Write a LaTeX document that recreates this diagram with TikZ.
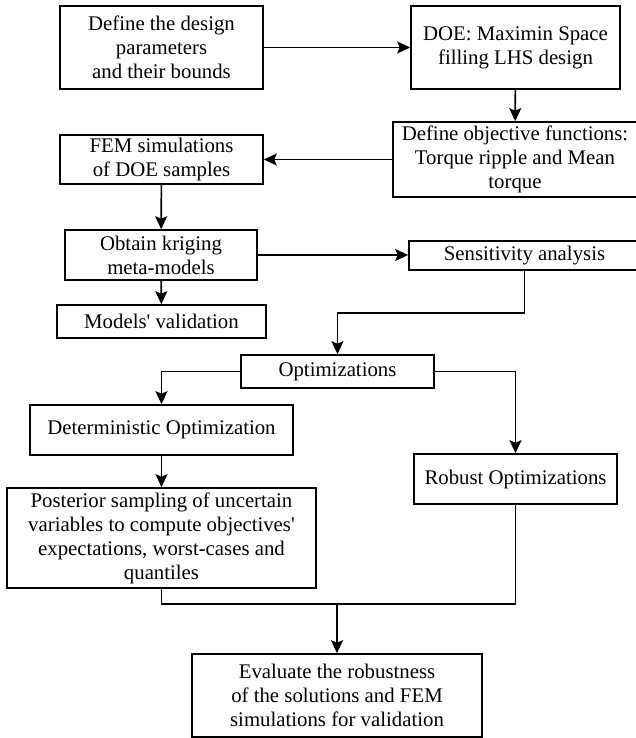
\documentclass[tikz,border=0pt]{standalone}
\usepackage{fontspec}
\setmainfont{Liberation Serif}
\usetikzlibrary{arrows.meta}

\tikzset{
  stage/.style={draw, line width=1.6pt, align=center, inner sep=0pt,
    font=\fontsize{20.8}{24}\selectfont},
  link/.style={line width=1.6pt, -{Stealth[length=13pt,width=12pt,inset=2.5pt]}},
  wire/.style={line width=1.6pt}
}

\begin{document}
\begin{tikzpicture}[x=1pt, y=-1pt]

  \useasboundingbox (0,0) rectangle (635,738);

  % Define nodes

  % DOE set-up
  \node[stage, minimum width=203pt, minimum height=83pt] (par) at (161.5,47.5) {Define the design\\parameters\\and their bounds}; %
  \node[stage, minimum width=209pt, minimum height=83pt] (doe) at (515.5,47.5) {DOE: Maximin Space\\filling LHS design}; %
  \node[stage, minimum width=244pt, minimum height=75pt] (obj) at (515,159.5) {Define objective functions:\\Torque ripple and Mean\\torque}; %

  % meta-models
  \node[stage, minimum width=203pt, minimum height=49pt] (fem) at (161.5,159.5) {FEM simulations\\of DOE samples}; %
  \node[stage, minimum width=192pt, minimum height=50pt] (krig) at (161,255) {Obtain kriging\\meta-models}; %
  \node[stage, minimum width=209pt, minimum height=33pt] (val) at (161.5,321.5) {Models\textquotesingle{} validation}; %
  \node[stage, minimum width=231pt, minimum height=29pt] (sens) at (524.5,255.5) {Sensitivity analysis}; %

  % optimizations
  \node[stage, minimum width=193pt, minimum height=33pt] (opt) at (337.5,371.5) {Optimizations}; %
  \node[stage, minimum width=263pt, minimum height=50pt] (det) at (161.5,430) {Deterministic Optimization}; %
  \node[stage, minimum width=309pt, minimum height=100pt] (post) at (161.5,538) {Posterior sampling of uncertain\\variables to compute objectives\textquotesingle\\expectations, worst-cases and\\quantiles}; %
  \node[stage, minimum width=203pt, minimum height=50pt] (rob) at (515.5,479) {Robust Optimizations}; %

  % validation
  \node[stage, minimum width=290pt, minimum height=83pt] (eval) at (337,695.5) {Evaluate the robustness\\of the solutions and FEM\\simulations for validation}; %

  \coordinate (sens-b) at (524.5,313) ; %
  \coordinate (join) at (337,604) ; %

  % edges
  \draw[link] (par) -- (doe) ;
  \draw[link] (doe) -- (obj) ;
  \draw[link] (obj) -- (fem) ;
  \draw[link] (fem) -- (krig) ;
  \draw[link] (krig) -- (val) ;
  \draw[link] (krig.east) -- (krig.east -| sens.west) ;
  \draw[link] (sens) -- (sens-b) -| (opt) ;
  \draw[link] (opt) -| (det) ;
  \draw[link] (opt) -| (rob) ;
  \draw[link] (det) -- (post) ;
  \draw[wire] (post) |- (join) -| (rob) ;
  \draw[link] (join) -- (eval) ;

\end{tikzpicture}
\end{document}
